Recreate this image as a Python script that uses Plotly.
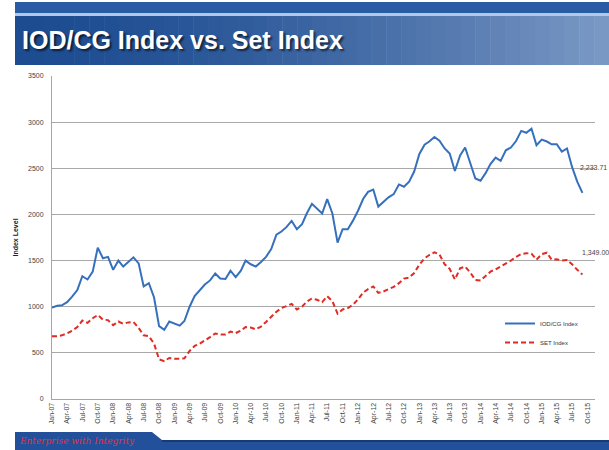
import pandas as pd
import plotly.graph_objects as go

# monthly closes, Jan-07 .. Sep-15
start_month = "2007-01-01"
iod_cg = [
    990, 1010, 1015, 1050, 1110, 1180, 1330, 1295, 1380, 1640, 1525, 1540,
    1400, 1500, 1435, 1490, 1535, 1470, 1220, 1255, 1100, 790, 750, 840,
    815, 795, 845, 1000, 1115, 1175, 1240, 1285, 1360, 1305, 1300, 1390,
    1320, 1390, 1500, 1460, 1435, 1485, 1540, 1625, 1780, 1815, 1865, 1930,
    1840, 1895, 2010, 2115, 2065, 2010, 2165, 2010, 1695, 1840, 1840, 1930,
    2040, 2170, 2245, 2270, 2085, 2135, 2185, 2220, 2325, 2300, 2355, 2465,
    2655, 2755, 2790, 2840, 2800, 2715, 2660, 2470, 2640, 2725, 2565, 2390,
    2365, 2450, 2545, 2615, 2580, 2695, 2725, 2795, 2905, 2885, 2930, 2750,
    2810, 2790, 2760, 2760, 2680, 2715, 2515, 2355, 2233.71,
]
set_index = [
    680, 680, 690, 710, 740, 780, 850, 825, 875, 910, 860, 855,
    800, 840, 815, 830, 835, 770, 690, 680, 600, 430, 410, 445,
    435, 435, 440, 520, 575, 600, 630, 670, 710, 700, 700, 730,
    715, 740, 780, 775, 755, 785, 835, 890, 945, 985, 1010, 1030,
    970, 1000, 1055, 1090, 1075, 1050, 1115, 1060, 925, 970, 985, 1020,
    1080, 1155, 1190, 1220, 1150, 1165, 1190, 1215, 1255, 1305, 1315, 1365,
    1455, 1525, 1560, 1590, 1565, 1460, 1410, 1295, 1415, 1435, 1370, 1290,
    1285, 1330, 1380, 1405, 1435, 1465, 1500, 1540, 1570, 1580, 1575, 1510,
    1570, 1585, 1510, 1515, 1500, 1505, 1460, 1400, 1349.00,
]
months = pd.date_range(start_month, periods=len(iod_cg), freq="MS")

title_text = "IOD/CG Index vs. Set Index"
footer_text = "Enterprise with Integrity"
series_names = ["IOD/CG Index", "SET Index"]

# plot area in pixels
L, R, T, B = 52, 595, 76, 399
W, H = 609, 450


def px(x):
    return (x - L) / (R - L)


def py(y):
    return (B - y) / (B - T)


def mix(c1, c2, t):
    a = [int(c1[i:i + 2], 16) for i in (1, 3, 5)]
    b = [int(c2[i:i + 2], 16) for i in (1, 3, 5)]
    return "#%02x%02x%02x" % tuple(round(a[k] + (b[k] - a[k]) * t) for k in range(3))


fig = go.Figure()

fig.add_trace(go.Scatter(
    x=months, y=iod_cg, mode="lines", name=series_names[0],
    line=dict(color="#3670bd", width=2),
))
fig.add_trace(go.Scatter(
    x=months, y=set_index, mode="lines", name=series_names[1],
    line=dict(color="#e02b24", width=2, dash="5px,3px"),
))

shapes = []
# title banner: top strip, light line, gradient band
shapes.append(dict(type="rect", xref="paper", yref="paper", x0=px(15), x1=px(W), y0=py(2), y1=py(13),
                   fillcolor="#2a5ca6", line_width=0, layer="below"))
shapes.append(dict(type="rect", xref="paper", yref="paper", x0=px(15), x1=px(W), y0=py(13), y1=py(16),
                   fillcolor="#b3c8e4", line_width=0, layer="below"))
n = 40
for i in range(n):
    x0 = 15 + (W - 15) * i / n
    x1 = 15 + (W - 15) * (i + 1) / n + 0.5
    t = (i / (n - 1)) ** 1.6
    shapes.append(dict(type="rect", xref="paper", yref="paper", x0=px(x0), x1=px(x1), y0=py(16), y1=py(65),
                       fillcolor=mix("#1d4c91", "#7a98c4", t), line_width=0, layer="below"))
# footer banner
shapes.append(dict(type="path", xref="paper", yref="paper",
                   path="M %f,%f L %f,%f L %f,%f L %f,%f L %f,%f L %f,%f Z" % (
                       px(15), py(432), px(152), py(432), px(162), py(440),
                       px(W), py(440), px(W), py(H), px(15), py(H)),
                   fillcolor="#22509a", line_width=0, layer="below"))
shapes.append(dict(type="rect", xref="paper", yref="paper", x0=px(162), x1=px(W), y0=py(440), y1=py(442),
                   fillcolor="#173a73", line_width=0, layer="below"))

annotations = [
    dict(text="<b>" + title_text + "</b>", xref="paper", yref="paper", x=px(20), y=py(40),
         xanchor="left", yanchor="middle", showarrow=False,
         font=dict(family="Liberation Sans, Arial", size=25, color="white",
                   shadow="2px 2px 2px rgba(0,0,0,0.6)")),
    dict(text="<i>" + footer_text + "</i>", xref="paper", yref="paper", x=px(17), y=py(441),
         xanchor="left", yanchor="middle", showarrow=False,
         font=dict(family="DejaVu Serif", size=9, color="#e8303c")),
    dict(text=f"{iod_cg[-1]:,.2f}", x=months[-1], y=iod_cg[-1], xanchor="left", yanchor="middle",
         xshift=-4, yshift=25, showarrow=False, font=dict(family="Liberation Sans", size=7, color="#444")),
    dict(text=f"{set_index[-1]:,.2f}", x=months[-1], y=set_index[-1], xanchor="left", yanchor="middle",
         xshift=-2, yshift=22, showarrow=False, font=dict(family="Liberation Sans", size=7, color="#444")),
]

fig.update_layout(
    width=W, height=H, autosize=False,
    margin=dict(l=L, r=W - R, t=T, b=H - B, pad=0),
    paper_bgcolor="white", plot_bgcolor="white",
    font=dict(family="Liberation Sans, Arial", color="#444"),
    shapes=shapes, annotations=annotations,
    showlegend=True,
    legend=dict(x=px(500), y=py(309), xanchor="left", yanchor="top",
                font=dict(size=6, color="#333"), bgcolor="rgba(0,0,0,0)", tracegroupgap=0),
    xaxis=dict(type="date", range=["2007-01-01", "2015-11-15"], tick0=start_month, dtick="M3",
               tickformat="%b-%y", tickangle=-90, tickfont=dict(size=7, color="#444"),
               showgrid=False, showline=True, linecolor="#a6a6a6", ticks="", zeroline=False),
    yaxis=dict(range=[0, 3500], dtick=500, tickformat="d", tickfont=dict(size=7, color="#444"),
               showgrid=True, gridcolor="#a9a9a9", gridwidth=1, showline=True, linecolor="#a6a6a6",
               ticks="", ticklabelstandoff=6, zeroline=False,
               title=dict(text="<b>Index Level</b>", font=dict(size=7, color="#222"), standoff=8)),
)

# the page body has a default 8px margin; drop it so the figure fills the window
fig.write_html("out.html", config={"displayModeBar": False},
               post_script="document.body.style.margin='0';")
